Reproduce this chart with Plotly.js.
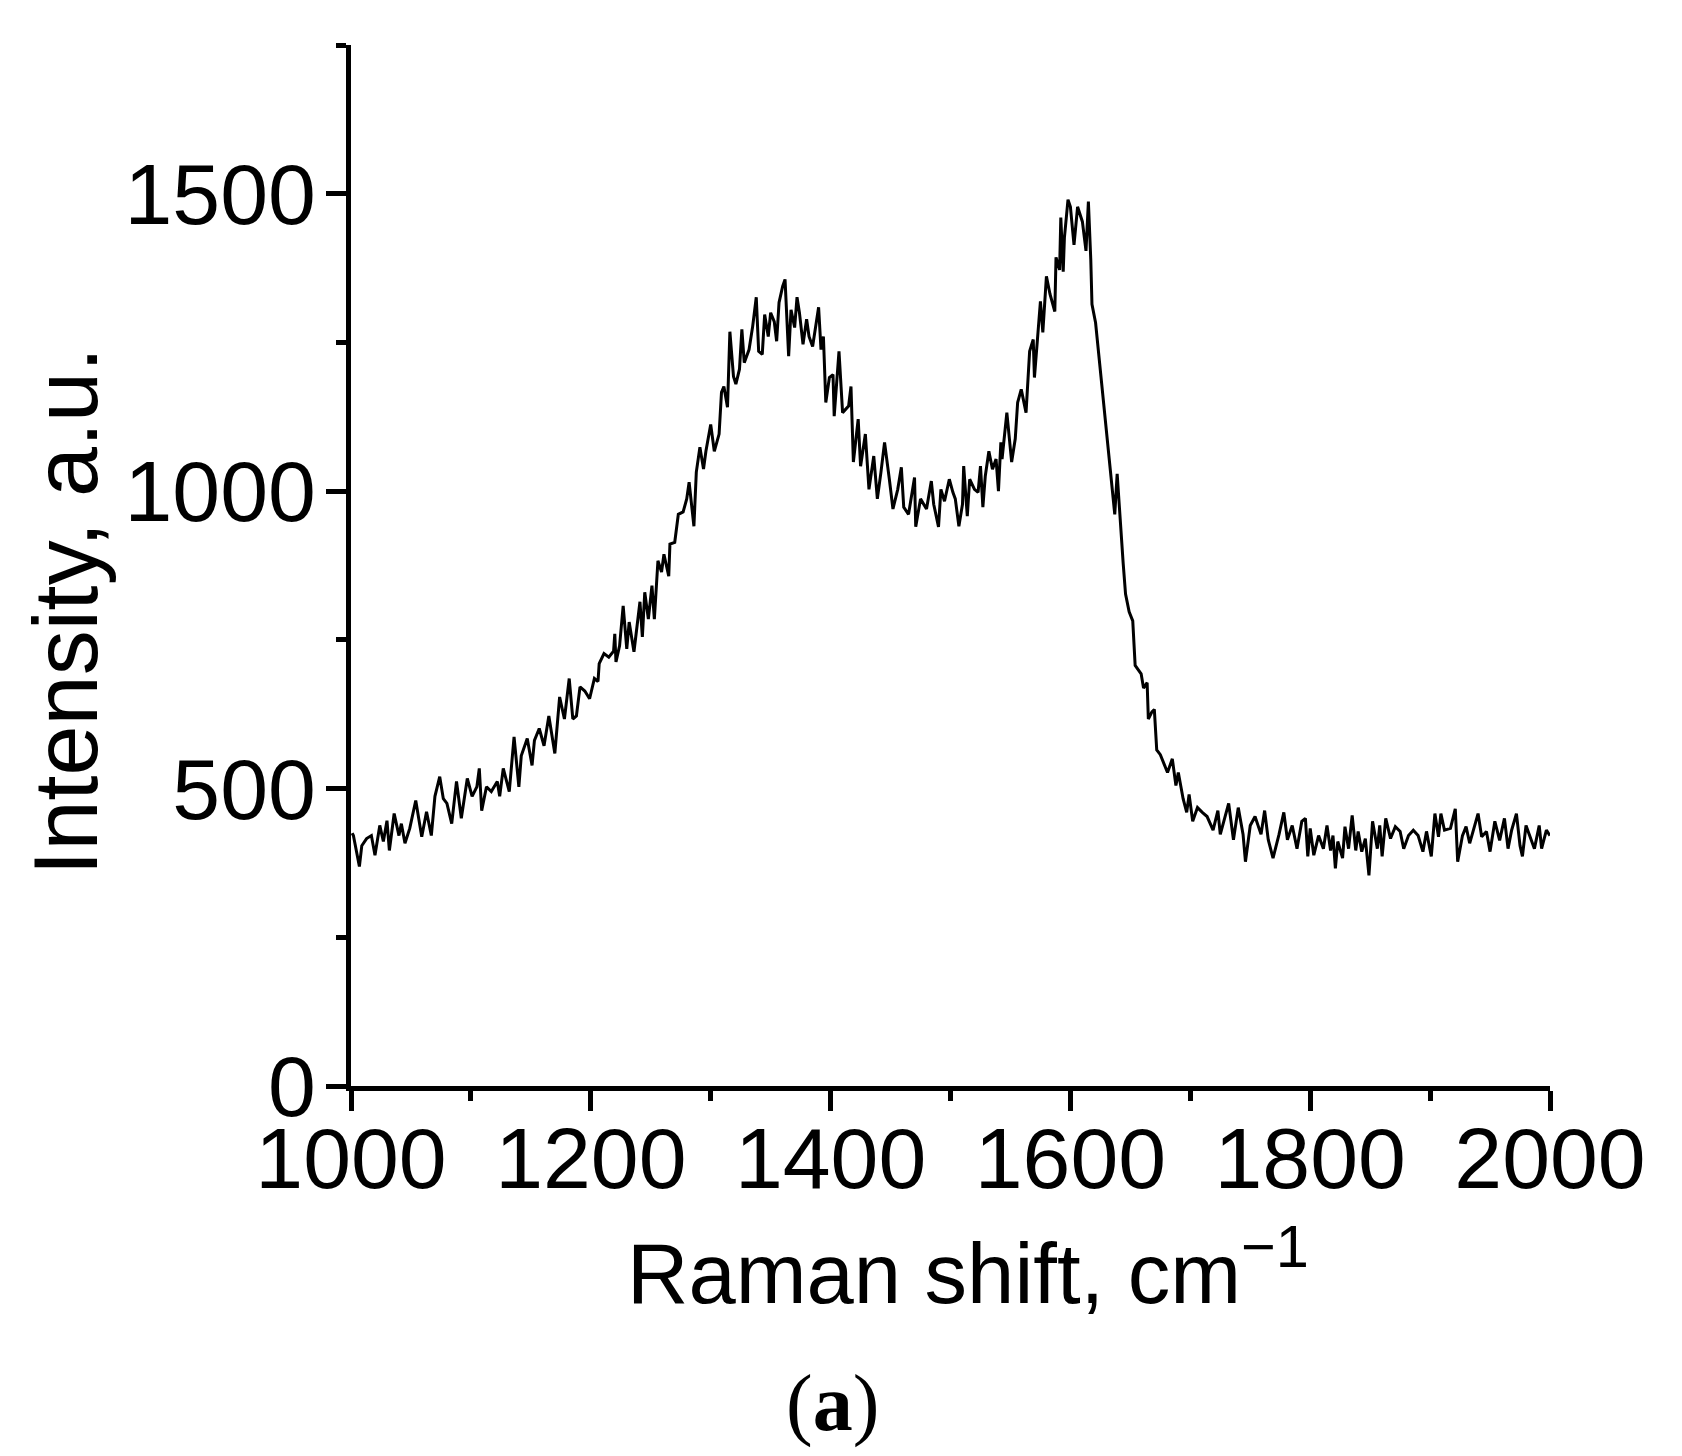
<!DOCTYPE html>
<html>
<head>
<meta charset="utf-8">
<script src="https://cdn.plot.ly/plotly-3.0.1.min.js"></script>
<style>
  html, body { margin: 0; padding: 0; background: #ffffff; }
  #chart { width: 1682px; height: 1456px; }
</style>
</head>
<body>
<div id="chart"></div>
<script>
// Raman shift (cm^-1)
const ramanShift = [
  1001,1002,1007,1009,1013,1017,1020,1024,1027,1030,
  1032,1036,1040,1042,1045,1049,1054,1059,1063,1067,
  1070,1074,1077,1080,1084,1088,1092,1097,1101,1105,
  1107,1109,1113,1117,1122,1124,1127,1132,1136,1140,
  1142,1147,1151,1153,1157,1161,1165,1167,1170,1174,
  1178,1182,1185,1188,1191,1195,1199,1203,
  1206,1207,1211,1215,1219,1220,1221,1224,1227,1230,
  1232,1236,1241,1243,1245,1248,1251,1253,1256,1259,
  1261,1265,1266,1270,1273,1277,1280,1282,1286,1288,
  1291,1294,1296,1300,1303,1307,1309,1311,1314,1316,
  1319,1321,1324,1326,1328,1332,1335,1338,1340,1343,
  1345,1348,1350,1353,1355,1357,1360,1362,1365,1367,
  1370,1372,1374,1377,1380,1382,1385,1390,1392,1394,
  1396,1399,1402,1403,
  1407,1410,1415,1417,1419,1423,1425,1429,1432,1436,
  1439,1442,1445,1449,1452,1456,1459,1461,1465,1470,
  1471,1475,1480,1484,1486,1490,1492,1495,1499,1502,
  1504,1507,1510,1511,1514,1516,1520,1523,1525,1527,
  1529,1532,1535,1538,1540,1542,1543,1547,1549,1551,
  1554,1556,1559,1563,1566,1569,1570,1573,1575,1577,
  1580,1583,1587,1588,1591,1592,1594,1595,1598,1600,
  1603,
  1606,1610,1613,1615,1617,1618,1621,1624,1627,1629,
  1632,1634,1637,1639,1642,1644,1646,1649,1652,1654,
  1659,1661,1664,1665,1668,1670,1672,1675,1678,1681,
  1685,1688,1690,1694,1697,1699,1702,1706,1710,1714,
  1719,1723,1725,1729,1732,1736,1740,1744,1746,1750,
  1754,1759,1762,1765,1769,1774,1778,1781,1785,1789,
  1793,
  1796,1798,1800,1803,1807,1811,1814,1817,1819,1821,
  1823,1827,1829,1832,1835,1838,1840,1843,1846,1849,
  1852,1856,1858,1860,1863,1867,1871,1875,1878,1882,
  1886,1890,1894,1897,1901,1904,1907,1909,1912,1917,
  1921,1923,1927,1930,1933,1936,1940,1943,1947,1950,
  1954,1958,1962,1965,1968,1972,1975,1977,1980,1983,
  1987,1991,1993,1997,2000
];

// Intensity (a.u.)
const intensity = [
  425,421,369,404,416,421,388,438,411,446,
  396,458,421,441,408,433,480,419,461,421,
  487,520,483,475,441,512,450,517,487,503,
  534,463,503,495,512,487,534,495,587,503,
  555,584,539,581,601,572,622,596,559,654,
  617,685,617,622,671,664,651,685,
  680,710,727,721,731,760,713,740,807,735,
  780,730,814,755,830,785,841,785,883,864,
  894,857,911,914,961,965,987,1015,941,1032,
  1074,1037,1067,1112,1067,1096,1166,1176,1141,1268,
  1193,1180,1205,1272,1216,1238,1277,1326,1235,1230,
  1297,1260,1300,1285,1252,1317,1344,1356,1227,1305,
  1275,1326,1300,1247,1289,1260,1243,1309,1238,1260,
  1149,1191,1196,1126,
  1235,1132,1143,1176,1049,1121,1042,1096,1003,1059,
  987,1032,1082,1020,970,1003,1040,973,961,1023,
  940,987,970,1017,978,940,1003,983,1020,998,
  987,941,978,1042,958,1020,1003,998,1042,973,
  1025,1067,1037,1054,1000,1082,1054,1132,1092,1049,
  1088,1149,1171,1132,1235,1255,1191,1268,1319,1267,
  1361,1331,1302,1393,1372,1460,1369,1426,1490,1478,
  1414,
  1478,1453,1404,1487,1389,1314,1283,1223,1164,1119,
  1067,1029,961,1029,931,879,827,797,782,707,
  693,669,678,617,629,633,565,557,542,527,
  550,505,527,483,460,490,445,468,460,453,
  430,463,423,453,475,414,468,423,377,438,
  453,423,463,414,383,423,460,414,438,399,
  445,
  450,386,433,388,421,399,438,396,421,366,
  411,383,436,399,455,396,428,394,416,354,
  445,399,438,386,450,416,436,428,399,421,
  430,421,394,428,386,458,419,458,430,433,
  466,377,421,436,408,428,458,419,428,394,
  445,413,450,399,430,458,404,386,438,421,
  399,438,399,430,421
];

const xTickVals = [1000, 1200, 1400, 1600, 1800, 2000];
const xTickText = ['1000', '1200', '1400', '1600', '1800', '2000'];
const yTickVals = [0, 500, 1000, 1500];
const yTickText = ['0', '500', '1000', '1500'];

const xTitle = 'Raman shift, cm<sup>\u22121</sup>';
const yTitle = 'Intensity, a.u.';
const panelLabel = '(<b>a</b>)';

const sans = 'Liberation Sans, Arial, sans-serif';

const trace = {
  type: 'scatter',
  mode: 'lines',
  x: ramanShift,
  y: intensity,
  line: { color: '#000000', width: 3 },
  hoverinfo: 'skip',
  showlegend: false
};

const layout = {
  width: 1682,
  height: 1456,
  margin: { l: 351, r: 132, t: 45, b: 370, pad: 0 },
  paper_bgcolor: '#ffffff',
  plot_bgcolor: '#ffffff',
  showlegend: false,
  xaxis: {
    range: [1000, 2000],
    tickmode: 'array',
    tickvals: xTickVals,
    ticktext: xTickText,
    ticks: 'outside',
    ticklen: 20,
    tickwidth: 5,
    tickcolor: '#000000',
    minor: { dtick: 100, tick0: 1000, ticks: 'outside', ticklen: 10, tickwidth: 5, tickcolor: '#000000', showgrid: false },
    showline: true,
    linewidth: 5,
    linecolor: '#000000',
    showgrid: false,
    zeroline: false,
    mirror: false,
    tickfont: { family: sans, size: 86, color: '#000000' },
    ticklabelstandoff: -26,
    fixedrange: true
  },
  yaxis: {
    range: [0, 1750],
    tickmode: 'array',
    tickvals: yTickVals,
    ticktext: yTickText,
    ticks: 'outside',
    ticklen: 20,
    tickwidth: 5,
    tickcolor: '#000000',
    minor: { dtick: 250, tick0: 0, ticks: 'outside', ticklen: 10, tickwidth: 5, tickcolor: '#000000', showgrid: false },
    showline: true,
    linewidth: 5,
    linecolor: '#000000',
    showgrid: false,
    zeroline: false,
    mirror: false,
    tickfont: { family: sans, size: 86, color: '#000000' },
    ticklabelstandoff: -7,
    fixedrange: true
  },
  annotations: [
    {
      text: xTitle, xref: 'paper', yref: 'paper',
      x: 0.515, y: -0.1735, xanchor: 'center', yanchor: 'middle',
      showarrow: false,
      font: { family: sans, size: 85, color: '#000000' }
    },
    {
      text: yTitle, xref: 'paper', yref: 'paper',
      x: -0.2375, y: 0.456, xanchor: 'center', yanchor: 'middle',
      textangle: -90, showarrow: false,
      font: { family: sans, size: 90, color: '#000000' }
    },
    {
      text: panelLabel, xref: 'paper', yref: 'paper',
      x: 0.402, y: -0.3048, xanchor: 'center', yanchor: 'middle',
      showarrow: false,
      font: { family: 'Liberation Serif, Times New Roman, serif', size: 80, color: '#000000' }
    }
  ]
};

Plotly.newPlot('chart', [trace], layout, { displayModeBar: false, staticPlot: true });
</script>
</body>
</html>
